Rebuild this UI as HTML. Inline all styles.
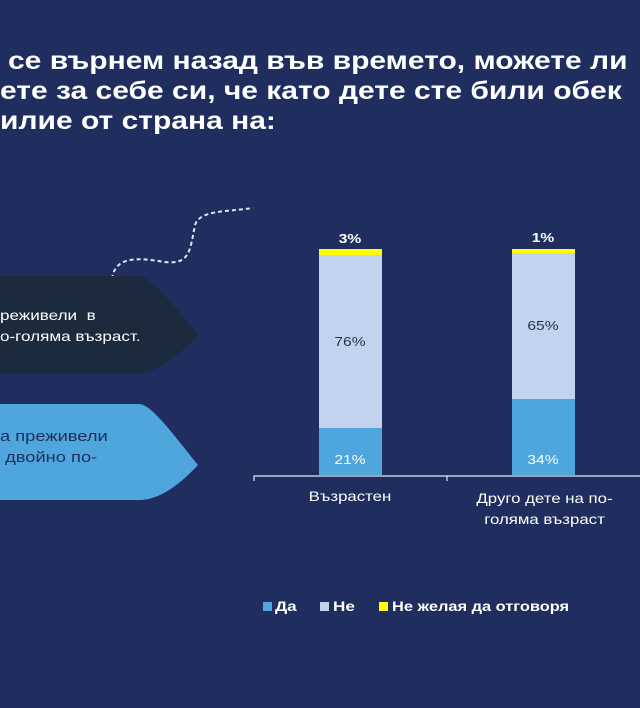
<!DOCTYPE html>
<html><head><meta charset="utf-8"><style>
html,body{margin:0;padding:0}
body{width:640px;height:708px;background:#1f2e5e;position:relative;overflow:hidden;font-family:"Liberation Sans","DejaVu Sans",sans-serif}
.t{position:absolute;white-space:nowrap;transform-origin:0 0}
.title{color:#fff;font-weight:bold;font-size:25px;left:8px;line-height:30px;transform:scaleX(1.2)}
.w{transform:scaleX(1.22)}
.c{transform:scaleX(1.2);transform-origin:50% 0}
</style></head><body>
<div class="t title" style="top:46px">се върнем назад във времето, можете ли</div>
<div class="t title" style="top:76px;left:0">ете за себе си, че като дете сте били обек</div>
<div class="t title" style="top:106px;left:0">илие от страна на:</div>

<svg width="640" height="708" style="position:absolute;left:0;top:0">
<path d="M112,279 C115,255 140,258 165,262 C190,265 190,250 195,225 C200,210 225,212 253,208" fill="none" stroke="#dfe6f0" stroke-width="2" stroke-dasharray="4,3"/>
<path d="M0,276 L140,276 C150,278 170,300 198,335 C175,360 155,372 140,373 L0,373 Z" fill="#1b2a3d"/>
<path d="M0,404 L140,404 C152,406 170,430 198,465 C175,490 155,500 140,500 L0,500 Z" fill="#4ea6dc"/>
<rect x="319" y="249" width="63" height="6" fill="#ffff00"/>
<rect x="319" y="255" width="63" height="173" fill="#c3d3ee"/>
<rect x="319" y="428" width="63" height="47" fill="#4ea6dc"/>
<rect x="512" y="249" width="63" height="4" fill="#ffff00"/>
<rect x="512" y="253" width="63" height="146" fill="#c3d3ee"/>
<rect x="512" y="399" width="63" height="76" fill="#4ea6dc"/>
<path d="M254,481 L254,476 L640,476 M447,476 L447,481" stroke="#e6e9f0" stroke-width="1.2" fill="none"/>
<rect x="263" y="602" width="9" height="9" fill="#4ea6dc"/>
<rect x="320" y="602" width="9" height="9" fill="#c3d3ee"/>
<rect x="379" y="602" width="9" height="9" fill="#ffff00"/>
</svg>

<div class="t w" style="left:0;top:305px;color:#fff;font-size:14px;line-height:21px">реживели &nbsp;в<br>о-голяма възраст.</div>
<div class="t w" style="left:0;top:426px;color:#1f2e5e;font-size:15px;line-height:21px">а преживели<br>&nbsp;двойно по-</div>

<div class="t c" style="left:330px;width:40px;text-align:center;top:231px;color:#fff;font-size:13px;font-weight:bold">3%</div>
<div class="t c" style="left:523px;width:40px;text-align:center;top:230px;color:#fff;font-size:13px;font-weight:bold">1%</div>
<div class="t c" style="left:330px;width:40px;text-align:center;top:334px;color:#1f2e5e;font-size:13px">76%</div>
<div class="t c" style="left:523px;width:40px;text-align:center;top:318px;color:#1f2e5e;font-size:13px">65%</div>
<div class="t c" style="left:330px;width:40px;text-align:center;top:452px;color:#fff;font-size:13px">21%</div>
<div class="t c" style="left:523px;width:40px;text-align:center;top:452px;color:#fff;font-size:13px">34%</div>
<div class="t c" style="left:270px;width:160px;text-align:center;top:488px;color:#fff;font-size:14px">Възрастен</div>
<div class="t c" style="left:462px;top:488px;color:#fff;font-size:14px;text-align:center;line-height:21px;width:165px">Друго дете на по-<br>голяма възраст</div>
<div class="t w" style="left:275px;top:598px;color:#fff;font-size:14px;font-weight:bold">Да</div>
<div class="t w" style="left:333px;top:598px;color:#fff;font-size:14px;font-weight:bold">Не</div>
<div class="t w" style="left:392px;top:598px;color:#fff;font-size:14px;font-weight:bold;transform:scaleX(1.17)">Не желая да отговоря</div>
</body></html>
